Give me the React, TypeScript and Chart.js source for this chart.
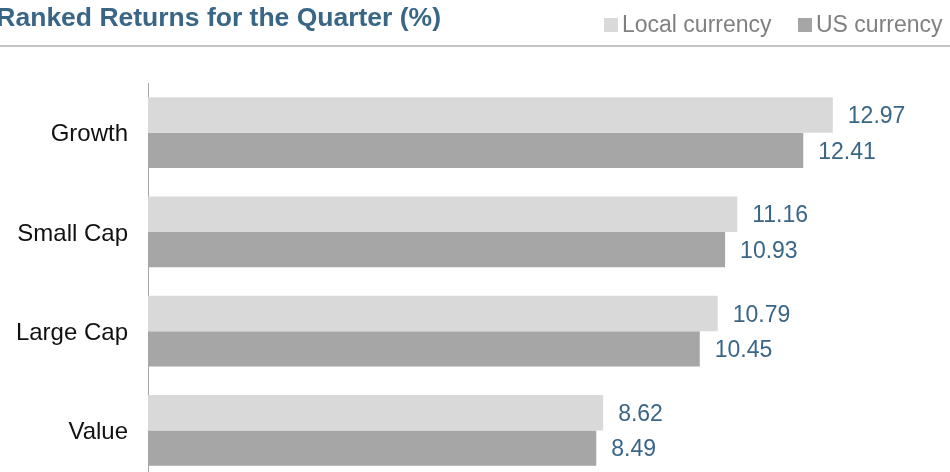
import React, { useEffect, useRef } from "react";
import { Chart, registerables } from "chart.js";

Chart.register(...registerables);

const categories = ["Growth", "Small Cap", "Large Cap", "Value"];
const localCurrency = [12.97, 11.16, 10.79, 8.62];
const usCurrency = [12.41, 10.93, 10.45, 8.49];
const seriesNames = ["Local currency", "US currency"];
const titleText = "Ranked Returns for the Quarter (%)";

const LOCAL_COLOR = "#d9d9d9";
const US_COLOR = "#a6a6a6";
const LABEL_COLOR = "#3a6686";
const FONT = "Arial, 'Liberation Sans', sans-serif";

const decorPlugin = {
  id: "decor",
  afterDraw(chart: any) {
    const ctx = chart.ctx;
    ctx.save();
    // title
    ctx.fillStyle = "#3a6686";
    ctx.font = `bold 26.5px ${FONT}`;
    ctx.textAlign = "right";
    ctx.textBaseline = "alphabetic";
    ctx.fillText(titleText, 441, 26);
    // separator line
    ctx.fillStyle = "#c4c4c4";
    ctx.fillRect(0, 45, chart.width, 2);
    // legend
    ctx.font = `23px ${FONT}`;
    ctx.textAlign = "left";
    ctx.fillStyle = LOCAL_COLOR;
    ctx.fillRect(604, 18, 14, 14);
    ctx.fillStyle = "#808080";
    ctx.fillText(seriesNames[0], 622, 32);
    ctx.fillStyle = US_COLOR;
    ctx.fillRect(798, 18, 14, 14);
    ctx.fillStyle = "#808080";
    ctx.fillText(seriesNames[1], 816, 32);
    // value labels
    ctx.fillStyle = LABEL_COLOR;
    ctx.font = `23px ${FONT}`;
    ctx.textBaseline = "middle";
    chart.data.datasets.forEach((ds: any, di: number) => {
      const meta = chart.getDatasetMeta(di);
      meta.data.forEach((bar: any, i: number) => {
        ctx.fillText(Number(ds.data[i]).toFixed(2), bar.x + 15, bar.y + 2);
      });
    });
    ctx.restore();
  },
};

export default function App() {
  const ref = useRef<HTMLCanvasElement>(null);
  useEffect(() => {
    if (!ref.current) return;
    const chart = new Chart(ref.current, {
      type: "bar",
      data: {
        labels: categories,
        datasets: [
          {
            label: seriesNames[0],
            data: localCurrency,
            backgroundColor: LOCAL_COLOR,
            barPercentage: 1,
            categoryPercentage: 0.715,
          },
          {
            label: seriesNames[1],
            data: usCurrency,
            backgroundColor: US_COLOR,
            barPercentage: 1,
            categoryPercentage: 0.715,
          },
        ],
      },
      options: {
        indexAxis: "y",
        animation: false,
        responsive: false,
        layout: { padding: { left: 0, right: 10, top: 83, bottom: 10 } },
        plugins: {
          legend: { display: false },
          title: { display: false },
          tooltip: { enabled: false },
        },
        scales: {
          x: {
            display: false,
            min: 0,
            max: 15,
          },
          y: {
            grid: { display: false, drawTicks: false },
            border: { display: true, color: "#a6a6a6", width: 1 },
            ticks: {
              color: "#111111",
              font: { family: FONT, size: 24 },
              padding: 20,
              labelOffset: 2,
            },
            afterFit(scale: any) {
              scale.width = 148;
              scale.paddingTop = 0;
              scale.paddingBottom = 0;
            },
          },
        },
      },
      plugins: [decorPlugin],
    });
    return () => chart.destroy();
  }, []);
  return (
    <div style={{ position: "fixed", left: 0, top: 0, width: 950, height: 490, background: "#fff" }}>
      <canvas ref={ref} width={950} height={490} style={{ display: "block" }} />
    </div>
  );
}
